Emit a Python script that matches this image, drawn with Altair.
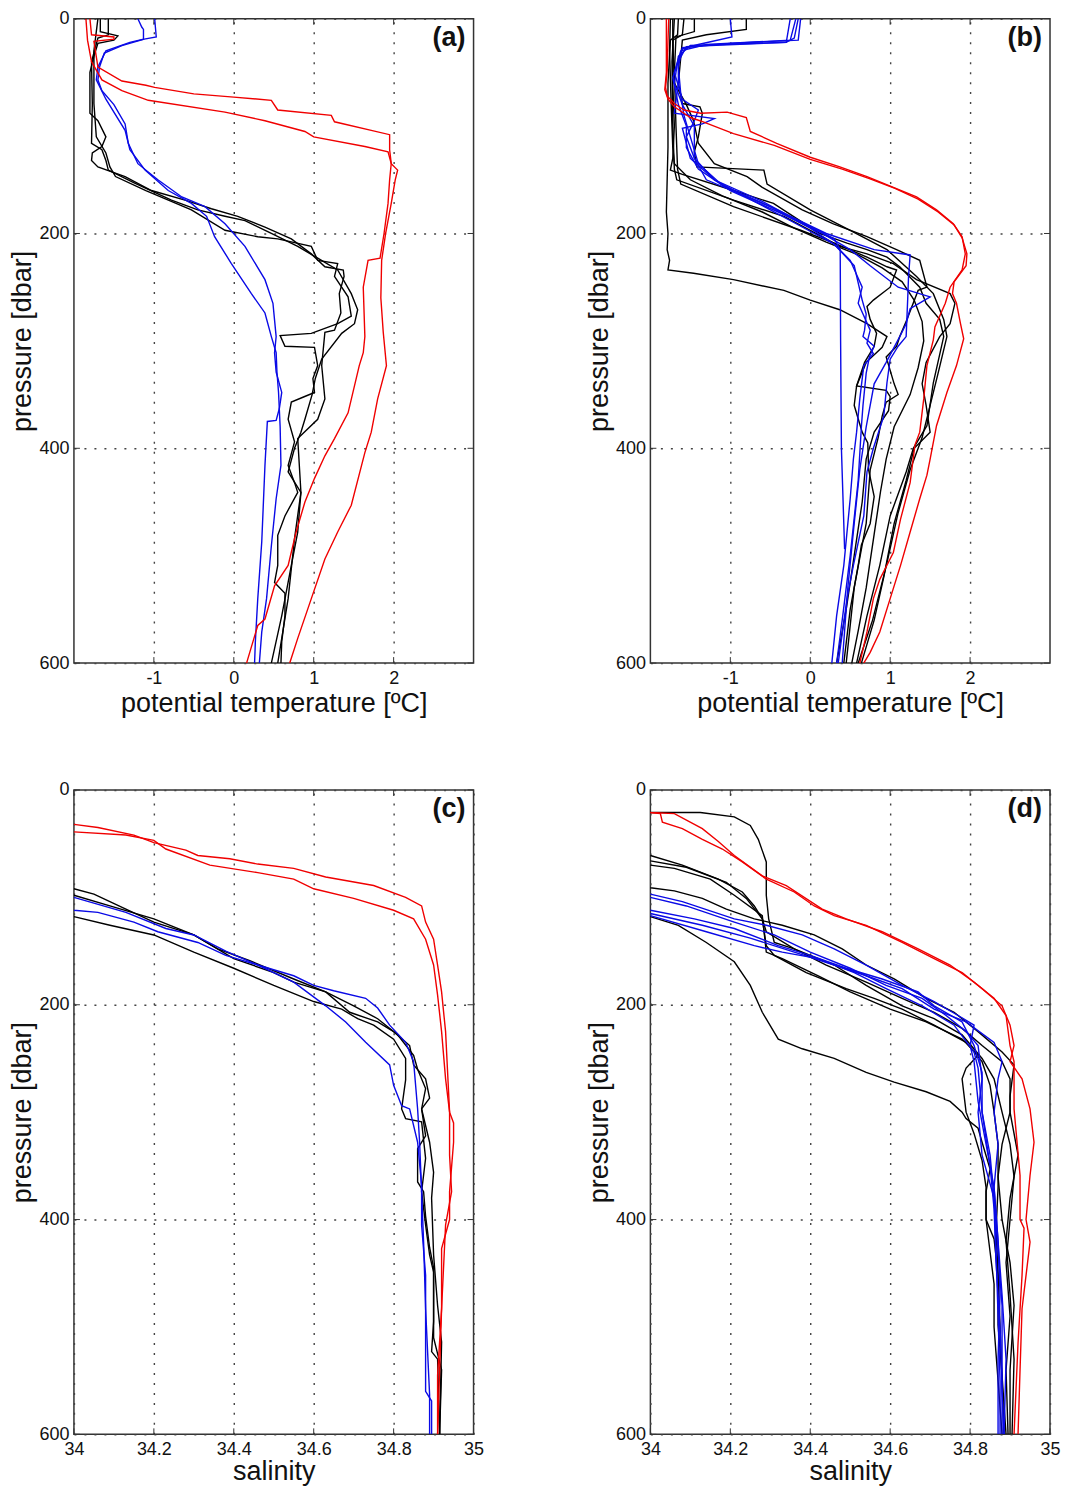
import altair as alt
import pandas as pd

# ---------------- panel (a): potential temperature, profiles (pressure, theta) ----------------
A_BLACK_1 = [(0,-1.67),(12,-1.67),(16,-1.45),(20,-1.5),(23,-1.7),(35,-1.75),(50,-1.8),(88,-1.8),(95,-1.7),(110,-1.6),(119,-1.65),(125,-1.77),(132,-1.78),(138,-1.7),(147,-1.36),(160,-1.03),(169,-0.61),(177,-0.28),(184,0.05),(194,0.39),(205,0.72),(219,0.97),(231,1.14),(234,1.37),(240,1.38),(256,1.32),(274,1.34),(290,1.26),(292,1.14),(323,1.1),(354,1.14),(373,1.05),(391,0.8),(441,0.84),(484,0.76),(540,0.68),(600,0.55)]
A_BLACK_2 = [(0,-1.57),(15,-1.57),(18,-1.7),(40,-1.78),(80,-1.77),(116,-1.78),(122,-1.65),(132,-1.6),(141,-1.57),(153,-1.24),(169,-0.78),(178,-0.45),(184,-0.11),(188,0.14),(200,0.47),(212,0.8),(223,1.05),(234,1.3),(256,1.47),(271,1.55),(284,1.51),(293,1.35),(317,1.1),(335,1.02),(350,0.98),(373,0.89),(385,0.84),(400,0.76),(422,0.68),(441,0.84),(478,0.8),(509,0.72),(556,0.6),(600,0.47)]
A_BLACK_3 = [(0,-1.7),(30,-1.75),(79,-1.75),(110,-1.72),(125,-1.6),(138,-1.55),(147,-1.48),(160,-1.1),(178,-0.53),(197,-0.11),(203,0.3),(205,0.55),(212,0.97),(225,1.05),(228,1.3),(240,1.26),(259,1.43),(277,1.47),(284,1.3),(293,0.97),(295,0.58),(305,0.64),(306,1.01),(323,1.05),(335,0.99),(348,1.01),(352,0.88),(357,0.72),(373,0.68),(394,0.76),(416,0.68),(432,0.76),(441,0.8),(463,0.64),(481,0.55),(509,0.55),(525,0.51),(535,0.64),(556,0.64),(580,0.6),(600,0.59)]
A_BLUE_1 = [(0,-0.99),(17,-0.97),(19,-1.12),(25,-1.4),(32,-1.62),(45,-1.68),(57,-1.7),(67,-1.65),(80,-1.5),(98,-1.36),(116,-1.32),(135,-1.2),(150,-0.95),(166,-0.65),(175,-0.36),(191,-0.11),(212,0.14),(243,0.39),(265,0.49),(296,0.53),(311,0.51),(329,0.53),(348,0.6),(363,0.57),(374,0.53),(375,0.42),(416,0.39),(487,0.35),(540,0.3),(580,0.27),(600,0.26)]
A_BLUE_2 = [(0,-1.2),(8,-1.15),(10,-1.13),(19,-1.13),(22,-1.3),(30,-1.6),(45,-1.7),(57,-1.72),(75,-1.6),(104,-1.36),(122,-1.3),(141,-1.11),(160,-0.82),(172,-0.53),(184,-0.34),(203,-0.24),(228,-0.03),(256,0.22),(274,0.39),(296,0.47),(311,0.53),(329,0.54),(348,0.56),(380,0.58),(416,0.59),(447,0.53),(491,0.47),(540,0.41),(571,0.35),(600,0.32)]
A_RED_1 = [(0,-1.8),(15,-1.78),(17,-1.5),(19,-1.5),(21,-1.75),(45,-1.7),(58,-1.4),(62,-1.1),(64,-0.99),(70,-0.5),(73,0.0),(76,0.47),(85,0.55),(90,1.22),(96,1.26),(104,1.72),(108,1.95),(122,1.95),(135,1.97),(141,2.05),(150,2.02),(172,1.97),(200,1.9),(225,1.85),(260,1.84),(292,1.87),(323,1.91),(354,1.8),(385,1.72),(404,1.64),(453,1.47),(478,1.3),(503,1.14),(540,0.97),(577,0.8),(600,0.7)]
A_RED_2 = [(0,-1.85),(20,-1.83),(40,-1.78),(57,-1.65),(67,-1.4),(76,-1.07),(87,-0.11),(95,0.39),(105,0.89),(110,1.0),(119,1.64),(124,1.93),(135,1.97),(150,1.95),(172,1.93),(200,1.88),(223,1.83),(225,1.68),(250,1.62),(296,1.64),(311,1.62),(323,1.57),(367,1.43),(391,1.26),(407,1.14),(428,1.01),(450,0.89),(478,0.78),(509,0.68),(528,0.51),(559,0.39),(565,0.3),(600,0.16)]

# ---------------- panel (b): potential temperature ----------------
B_BLACK_1 = [(0,-1.65),(15,-1.66),(20,-1.75),(60,-1.78),(120,-1.78),(180,-1.8),(200,-1.78),(215,-1.79),(225,-1.76),(234,-1.78),(237,-1.46),(243,-0.96),(253,-0.33),(262,0.0),(271,0.37),(284,0.71),(296,0.96),(306,0.9),(320,0.7),(342,0.58),(346,0.95),(352,1.0),(365,0.98),(385,0.8),(410,0.7),(450,0.65),(500,0.55),(550,0.45),(600,0.33)]
B_BLACK_2 = [(0,-1.58),(15,-1.6),(20,-1.72),(60,-1.72),(100,-1.7),(130,-1.72),(141,-1.75),(145,-1.6),(160,-0.96),(172,-0.46),(188,-0.13),(200,0.12),(209,0.46),(215,0.71),(222,0.96),(231,1.12),(250,1.37),(265,1.45),(280,1.62),(296,1.67),(339,1.54),(379,1.46),(400,1.29),(422,1.2),(463,1.0),(509,0.87),(556,0.71),(600,0.58)]
B_BLACK_3 = [(0,-1.7),(40,-1.73),(100,-1.72),(140,-1.7),(150,-1.67),(169,-0.96),(184,-0.33),(197,0.0),(212,0.37),(219,0.71),(228,1.04),(243,1.33),(256,1.75),(265,1.81),(284,1.75),(296,1.62),(320,1.45),(340,1.4),(360,1.45),(385,1.5),(400,1.3),(430,1.2),(470,1.05),(520,0.92),(560,0.8),(600,0.64)]
B_BLACK_4 = [(0,-1.45),(12,-1.45),(17,-1.68),(50,-1.7),(100,-1.68),(140,-1.66),(154,-1.62),(175,-0.96),(197,-0.12),(209,0.3),(222,0.71),(231,0.96),(234,1.08),(250,1.0),(262,0.79),(268,0.71),(280,0.75),(293,0.83),(305,0.8),(320,0.68),(342,0.58),(360,0.55),(385,0.65),(395,0.72),(420,0.73),(445,0.8),(470,0.75),(490,0.64),(509,0.6),(550,0.5),(600,0.42)]
B_BLACK_5 = [(0,-1.72),(20,-1.72),(60,-1.7),(80,-1.55),(95,-1.46),(116,-1.4),(135,-1.2),(147,-0.79),(157,-0.6),(178,-0.1),(191,0.29),(203,0.71),(215,1.08),(225,1.37),(250,1.46),(253,1.35),(280,1.21),(296,1.12),(305,1.08),(315,0.95),(340,1.05),(350,1.1),(357,0.95),(370,0.9),(390,0.85),(420,0.75),(470,0.7),(530,0.55),(600,0.45)]
B_BLACK_6 = [(0,-0.8),(10,-0.8),(15,-1.3),(20,-1.6),(60,-1.65),(79,-1.6),(82,-1.38),(88,-1.35),(110,-1.4),(124,-1.45),(138,-1.42),(141,-0.58),(154,-0.54),(178,0.0),(197,0.5),(215,0.96),(240,1.33),(256,1.54),(280,1.67),(296,1.71),(330,1.6),(360,1.5),(390,1.4),(420,1.25),(460,1.1),(510,0.95),(560,0.78),(600,0.6)]
B_BLACK_7 = [(0,-1.75),(30,-1.76),(80,-1.74),(120,-1.72),(135,-1.7),(150,-1.5),(165,-1.1),(180,-0.6),(195,-0.2),(208,0.2),(220,0.6),(232,0.9),(245,1.15),(262,1.3),(282,1.4),(300,1.42),(325,1.35),(350,1.25),(380,1.05),(410,0.95),(440,0.88),(480,0.8),(530,0.7),(570,0.6),(600,0.52)]
B_BLUE_1 = [(0,-0.15),(18,-0.2),(22,-0.3),(25,-1.5),(35,-1.65),(60,-1.7),(80,-1.6),(100,-1.45),(130,-1.45),(150,-1.2),(170,-0.6),(190,-0.1),(205,0.3),(215,0.375),(300,0.38),(400,0.39),(494,0.43)]
B_BLUE_2 = [(0,-0.25),(22,-0.3),(26,-1.55),(40,-1.65),(60,-1.65),(88,-1.7),(93,-1.2),(98,-1.35),(102,-1.6),(130,-1.5),(150,-1.2),(170,-0.7),(190,-0.2),(210,0.3),(225,0.5),(250,0.65),(265,0.6),(290,0.75),(302,0.71),(312,0.79),(323,0.67),(354,0.62),(385,0.58),(410,0.54),(447,0.5),(509,0.42),(556,0.33),(600,0.27)]
B_BLUE_3 = [(0,-1.0),(17,-0.98),(24,-1.4),(28,-1.6),(50,-1.7),(75,-1.6),(85,-1.4),(95,-1.45),(110,-1.55),(130,-1.45),(150,-1.3),(175,-0.5),(200,0.2),(215,0.8),(220,1.25),(240,1.23),(260,1.22),(296,1.2),(305,1.1),(317,1.0),(339,0.96),(370,0.92),(400,0.79),(422,0.71),(463,0.67),(509,0.54),(540,0.46),(600,0.35)]
B_BLUE_4 = [(0,-0.18),(20,-0.25),(24,-1.3),(30,-1.62),(55,-1.72),(80,-1.65),(100,-1.55),(120,-1.55),(140,-1.4),(160,-1.0),(180,-0.4),(200,0.15),(215,0.5),(230,0.75),(250,1.1),(259,1.5),(270,1.25),(284,1.2),(296,1.12),(320,0.95),(340,0.8),(380,0.7),(420,0.62),(470,0.55),(530,0.47),(600,0.4)]
B_BLUE_5 = [(0,-0.12),(20,-0.15),(23,-1.0),(27,-1.6),(45,-1.65),(70,-1.62),(90,-1.58),(110,-1.5),(135,-1.4),(155,-1.1),(175,-0.5),(195,0.0),(210,0.3),(230,0.55),(262,0.65),(275,0.7),(290,0.68),(296,0.66),(305,0.8),(315,0.74),(330,0.7),(360,0.66),(380,0.64),(430,0.6),(500,0.5),(560,0.4),(600,0.33)]
B_RED_1 = [(0,-1.77),(20,-1.78),(48,-1.79),(64,-1.81),(72,-1.79),(79,-1.7),(85,-1.58),(88,-1.37),(87,-1.04),(92,-0.8),(105,-0.75),(116,-0.42),(129,0.0),(138,0.37),(147,0.71),(157,1.04),(166,1.33),(178,1.58),(191,1.79),(203,1.9),(219,1.94),(234,1.9),(250,1.75),(265,1.69),(287,1.56),(299,1.54),(323,1.46),(354,1.42),(385,1.37),(397,1.31),(432,1.25),(466,1.13),(497,1.04),(522,0.87),(540,0.79),(571,0.71),(600,0.62)]
B_RED_2 = [(0,-1.8),(25,-1.8),(50,-1.8),(66,-1.82),(75,-1.78),(82,-1.7),(92,-1.5),(95,-1.38),(107,-0.96),(118,-0.45),(131,0.0),(140,0.4),(149,0.74),(158,1.06),(168,1.35),(180,1.6),(192,1.8),(204,1.9),(219,1.96),(230,1.95),(245,1.8),(256,1.78),(265,1.83),(284,1.88),(298,1.92),(323,1.83),(348,1.71),(379,1.58),(410,1.5),(425,1.46),(447,1.37),(478,1.25),(509,1.13),(540,1.0),(571,0.87),(590,0.75),(600,0.67)]

# ---------------- panel (c): salinity ----------------
C_BLACK_1 = [(80,33.8),(92,34.0),(97,34.05),(111,34.13),(123,34.2),(135,34.3),(148,34.36),(159,34.44),(176,34.55),(188,34.63),(201,34.7),(213,34.76),(228,34.81),(247,34.85),(260,34.86),(278,34.88),(297,34.87),(328,34.89),(356,34.9),(380,34.895),(433,34.9),(480,34.91),(514,34.92),(600,34.915)]
C_BLACK_2 = [(85,33.8),(98,34.0),(108,34.09),(120,34.2),(135,34.3),(157,34.4),(170,34.5),(179,34.55),(188,34.63),(207,34.69),(216,34.76),(225,34.8),(238,34.84),(256,34.85),(269,34.88),(287,34.89),(297,34.87),(322,34.88),(334,34.86),(365,34.86),(374,34.875),(397,34.88),(426,34.89),(445,34.9),(495,34.9),(523,34.895),(530,34.91),(600,34.915)]
C_BLACK_3 = [(105,33.8),(118,34.0),(126,34.09),(135,34.2),(151,34.3),(166,34.4),(182,34.5),(197,34.6),(204,34.67),(213,34.71),(219,34.75),(232,34.8),(250,34.83),(270,34.83),(297,34.82),(306,34.83),(309,34.87),(343,34.88),(374,34.87),(405,34.88),(433,34.89),(449,34.9),(510,34.9),(540,34.92),(600,34.915)]
C_BLUE_1 = [(88,33.8),(100,34.0),(114,34.13),(129,34.23),(135,34.3),(150,34.38),(163,34.46),(173,34.55),(182,34.6),(187,34.65),(194,34.73),(203,34.76),(219,34.79),(235,34.83),(253,34.85),(297,34.86),(328,34.865),(374,34.87),(421,34.875),(483,34.88),(563,34.89),(600,34.89)]
C_BLUE_2 = [(100,33.8),(112,34.0),(114,34.06),(123,34.15),(132,34.21),(142,34.31),(154,34.38),(163,34.46),(179,34.55),(201,34.63),(216,34.68),(235,34.73),(256,34.79),(275,34.8),(294,34.82),(297,34.84),(328,34.86),(368,34.87),(405,34.87),(452,34.88),(560,34.88),(569,34.895),(600,34.895)]
C_RED_1 = [(25,33.8),(32,34.0),(35,34.06),(42,34.15),(49,34.2),(56,34.28),(61,34.31),(64,34.39),(69,34.46),(73,34.55),(81,34.63),(89,34.75),(100,34.83),(108,34.87),(123,34.88),(139,34.9),(163,34.91),(188,34.92),(225,34.93),(300,34.94),(310,34.95),(328,34.95),(374,34.94),(400,34.94),(427,34.92),(483,34.92),(600,34.91)]
C_RED_2 = [(30,33.7),(39,34.0),(42,34.13),(47,34.2),(55,34.23),(70,34.34),(77,34.46),(83,34.55),(92,34.6),(101,34.7),(112,34.8),(120,34.85),(139,34.88),(163,34.9),(191,34.91),(225,34.92),(269,34.93),(300,34.94),(340,34.94),(374,34.945),(405,34.93),(483,34.92),(545,34.91),(600,34.91)]

# ---------------- panel (d): salinity ----------------
D_BLACK_1 = [(15,33.9),(21,34.0),(21,34.125),(25,34.21),(33,34.25),(46,34.27),(67,34.29),(98,34.29),(120,34.296),(142,34.31),(148,34.36),(163,34.44),(179,34.54),(194,34.63),(207,34.71),(222,34.78),(238,34.83),(253,34.88),(269,34.9),(300,34.9),(330,34.88),(360,34.87),(400,34.88),(440,34.9),(480,34.91),(540,34.9),(600,34.9)]
D_BLACK_2 = [(55,33.9),(61,34.0),(70,34.08),(83,34.17),(95,34.23),(108,34.26),(120,34.28),(132,34.29),(148,34.36),(163,34.46),(182,34.54),(201,34.63),(213,34.71),(228,34.78),(250,34.83),(269,34.86),(300,34.88),(330,34.9),(360,34.91),(400,34.9),(440,34.89),(490,34.9),(540,34.89),(600,34.895)]
D_BLACK_3 = [(60,33.9),(66,34.0),(72,34.09),(86,34.19),(101,34.24),(120,34.28),(145,34.29),(154,34.31),(170,34.39),(185,34.49),(194,34.56),(204,34.63),(219,34.71),(235,34.79),(253,34.83),(275,34.85),(300,34.86),(330,34.87),(370,34.87),(410,34.865),(450,34.87),(500,34.875),(550,34.88),(600,34.885)]
D_BLACK_4 = [(65,33.9),(70,34.0),(73,34.06),(83,34.15),(98,34.21),(117,34.28),(151,34.29),(157,34.33),(173,34.42),(188,34.5),(204,34.6),(216,34.69),(232,34.78),(247,34.82),(259,34.79),(269,34.78),(300,34.79),(320,34.81),(345,34.83),(370,34.84),(400,34.84),(430,34.85),(460,34.86),(500,34.86),(550,34.87),(600,34.88)]
D_BLACK_5 = [(85,33.9),(91,34.0),(94,34.06),(101,34.13),(111,34.19),(120,34.26),(126,34.33),(135,34.41),(148,34.48),(163,34.54),(176,34.61),(194,34.69),(207,34.76),(225,34.82),(244,34.88),(256,34.91),(285,34.9),(300,34.9),(340,34.92),(380,34.9),(420,34.89),(470,34.9),(530,34.91),(600,34.905)]
D_BLACK_6 = [(110,33.9),(118,34.0),(126,34.07),(142,34.14),(160,34.21),(182,34.25),(207,34.28),(232,34.32),(241,34.38),(250,34.46),(263,34.54),(272,34.61),(281,34.69),(290,34.75),(300,34.78),(306,34.79),(315,34.82),(328,34.83),(353,34.85),(374,34.84),(400,34.84),(418,34.86),(452,34.87),(498,34.87),(545,34.88),(600,34.89)]
D_BLUE_1 = [(90,33.9),(97,34.0),(104,34.08),(120,34.21),(126,34.29),(135,34.38),(148,34.46),(163,34.54),(182,34.63),(197,34.71),(210,34.77),(219,34.81),(238,34.8),(253,34.81),(290,34.82),(330,34.84),(370,34.86),(420,34.87),(470,34.875),(530,34.87),(600,34.87)]
D_BLUE_2 = [(93,33.9),(100,34.0),(108,34.09),(123,34.21),(135,34.31),(151,34.4),(166,34.5),(182,34.59),(194,34.68),(210,34.74),(225,34.79),(238,34.82),(269,34.83),(300,34.82),(340,34.83),(380,34.86),(430,34.87),(480,34.88),(540,34.88),(600,34.88)]
D_BLUE_3 = [(105,33.9),(112,34.0),(120,34.11),(129,34.21),(145,34.32),(154,34.4),(166,34.49),(176,34.58),(188,34.67),(201,34.71),(216,34.78),(238,34.81),(263,34.83),(300,34.83),(350,34.85),(390,34.86),(440,34.865),(500,34.875),(560,34.88),(600,34.885)]
D_BLUE_4 = [(108,33.9),(115,34.0),(126,34.13),(138,34.25),(151,34.36),(163,34.46),(173,34.54),(185,34.63),(204,34.71),(216,34.79),(235,34.86),(253,34.88),(269,34.87),(300,34.86),(330,34.87),(370,34.86),(420,34.87),(470,34.88),(530,34.89),(600,34.885)]
D_BLUE_5 = [(112,33.9),(117,34.0),(132,34.14),(145,34.26),(151,34.33),(157,34.42),(170,34.51),(185,34.59),(201,34.68),(219,34.76),(244,34.81),(259,34.82),(300,34.83),(340,34.85),(380,34.86),(430,34.865),(490,34.87),(550,34.875),(600,34.875)]
D_RED_1 = [(15,33.9),(21,34.0),(22,34.025),(30,34.03),(36,34.08),(46,34.13),(55,34.18),(67,34.23),(83,34.29),(95,34.36),(108,34.41),(117,34.46),(126,34.54),(142,34.63),(157,34.71),(170,34.78),(185,34.83),(201,34.88),(219,34.9),(238,34.91),(253,34.9),(269,34.93),(297,34.95),(328,34.96),(359,34.95),(400,34.94),(421,34.95),(452,34.94),(483,34.93),(540,34.925),(600,34.92)]
D_RED_2 = [(15,33.9),(21,34.0),(22,34.06),(36,34.13),(48,34.17),(61,34.21),(80,34.28),(89,34.34),(111,34.43),(120,34.49),(132,34.58),(148,34.67),(163,34.75),(179,34.81),(194,34.86),(210,34.89),(238,34.9),(253,34.91),(297,34.91),(359,34.925),(400,34.925),(408,34.935),(452,34.93),(515,34.92),(600,34.91)]

TEMP_TICKS = [-1, 0, 1, 2]
SAL_TICKS = [34.0, 34.2, 34.4, 34.6, 34.8, 35.0]
P_TICKS = [0, 200, 400, 600]

BLACK, BLUE, RED = "#000000", "#0a0ae6", "#f00000"
W, H = 400, 645
FONT = "Liberation Sans"


def table(profiles):
    rows = []
    for name, color, pts in profiles:
        for i, (p, v) in enumerate(pts):
            rows.append({"id": name, "c": color, "o": i, "p": p, "v": v})
    return pd.DataFrame(rows)


def panel(profiles, label, xdomain, xticks, xtitle, temp, title_pad):
    df = table(profiles)
    if temp:
        lexpr = "datum.value < 0 ? '-' + format(-datum.value, 'd') : format(datum.value, 'd')"
    else:
        lexpr = "format(datum.value, '.1~f')"
    xscale = alt.Scale(domain=xdomain, nice=False, zero=False)
    yscale = alt.Scale(domain=[0, 600], reverse=True, nice=False, zero=False)
    xaxis = alt.Axis(values=xticks, title=xtitle, labelExpr=lexpr, grid=True, ticks=False,
                     domain=False, labelFlush=False, labelOverlap=False, labelPadding=6,
                     titlePadding=title_pad)
    yaxis = alt.Axis(values=P_TICKS, title="pressure [dbar]", grid=True, ticks=False,
                     domain=False, labelFlush=False, labelOverlap=False, labelPadding=5,
                     titlePadding=2)
    lines = alt.Chart(df).mark_line(strokeWidth=1.4, clip=True).encode(
        x=alt.X("v:Q", scale=xscale, axis=xaxis),
        y=alt.Y("p:Q", scale=yscale, axis=yaxis),
        detail="id:N",
        order="o:Q",
        color=alt.Color("c:N", scale=None),
    )
    xt = pd.DataFrame({"v": xticks})
    yt = pd.DataFrame({"p": P_TICKS})
    tick_style = dict(color="#333333", strokeWidth=1)
    xt_top = alt.Chart(xt).mark_rule(**tick_style).encode(
        x=alt.X("v:Q", scale=xscale), y=alt.value(0), y2=alt.value(6))
    xt_bot = alt.Chart(xt).mark_rule(**tick_style).encode(
        x=alt.X("v:Q", scale=xscale), y=alt.value(H - 6), y2=alt.value(H))
    yt_l = alt.Chart(yt).mark_rule(**tick_style).encode(
        y=alt.Y("p:Q", scale=yscale), x=alt.value(0), x2=alt.value(6))
    yt_r = alt.Chart(yt).mark_rule(**tick_style).encode(
        y=alt.Y("p:Q", scale=yscale), x=alt.value(W - 6), x2=alt.value(W))
    lab = alt.Chart(pd.DataFrame({"t": [label]})).mark_text(
        align="right", baseline="top", fontSize=27, fontWeight="bold", font=FONT, color="#111111"
    ).encode(text="t:N", x=alt.value(W - 8), y=alt.value(6))
    return alt.layer(xt_top, xt_bot, yt_l, yt_r, lines, lab).properties(width=W, height=H)


pa = panel([("k1", BLACK, A_BLACK_1), ("k2", BLACK, A_BLACK_2), ("k3", BLACK, A_BLACK_3),
            ("b1", BLUE, A_BLUE_1), ("b2", BLUE, A_BLUE_2),
            ("r1", RED, A_RED_1), ("r2", RED, A_RED_2)],
           "(a)", [-2, 3], TEMP_TICKS, "potential temperature [ºC]", True, 3)
pb = panel([("k1", BLACK, B_BLACK_1), ("k2", BLACK, B_BLACK_2), ("k3", BLACK, B_BLACK_3),
            ("k4", BLACK, B_BLACK_4), ("k5", BLACK, B_BLACK_5), ("k6", BLACK, B_BLACK_6),
            ("k7", BLACK, B_BLACK_7),
            ("b1", BLUE, B_BLUE_1), ("b2", BLUE, B_BLUE_2), ("b3", BLUE, B_BLUE_3),
            ("b4", BLUE, B_BLUE_4), ("b5", BLUE, B_BLUE_5),
            ("r1", RED, B_RED_1), ("r2", RED, B_RED_2)],
           "(b)", [-2, 3], TEMP_TICKS, "potential temperature [ºC]", True, 3)
pc = panel([("k1", BLACK, C_BLACK_1), ("k2", BLACK, C_BLACK_2), ("k3", BLACK, C_BLACK_3),
            ("b1", BLUE, C_BLUE_1), ("b2", BLUE, C_BLUE_2),
            ("r1", RED, C_RED_1), ("r2", RED, C_RED_2)],
           "(c)", [34, 35], SAL_TICKS, "salinity", False, 0)
pd_ = panel([("k1", BLACK, D_BLACK_1), ("k2", BLACK, D_BLACK_2), ("k3", BLACK, D_BLACK_3),
             ("k4", BLACK, D_BLACK_4), ("k5", BLACK, D_BLACK_5), ("k6", BLACK, D_BLACK_6),
             ("b1", BLUE, D_BLUE_1), ("b2", BLUE, D_BLUE_2), ("b3", BLUE, D_BLUE_3),
             ("b4", BLUE, D_BLUE_4), ("b5", BLUE, D_BLUE_5),
             ("r1", RED, D_RED_1), ("r2", RED, D_RED_2)],
            "(d)", [34, 35], SAL_TICKS, "salinity", False, 0)

chart = alt.concat(pa, pb, pc, pd_, columns=2, spacing={"row": 127, "column": 177},
                   bounds="flush").properties(
    padding={"left": 0, "top": 0, "right": 0, "bottom": 0}
).configure_view(stroke="#333333", strokeWidth=1.5).configure_axis(
    labelFont=FONT, titleFont=FONT, labelFontSize=18, titleFontSize=27,
    labelColor="#111111", titleColor="#111111", titleFontWeight="normal",
    gridColor="#444444", gridDash=[2, 8], gridWidth=1.4, gridOpacity=1,
)

chart.save("out.html", embed_options={"renderer": "svg", "actions": False})
